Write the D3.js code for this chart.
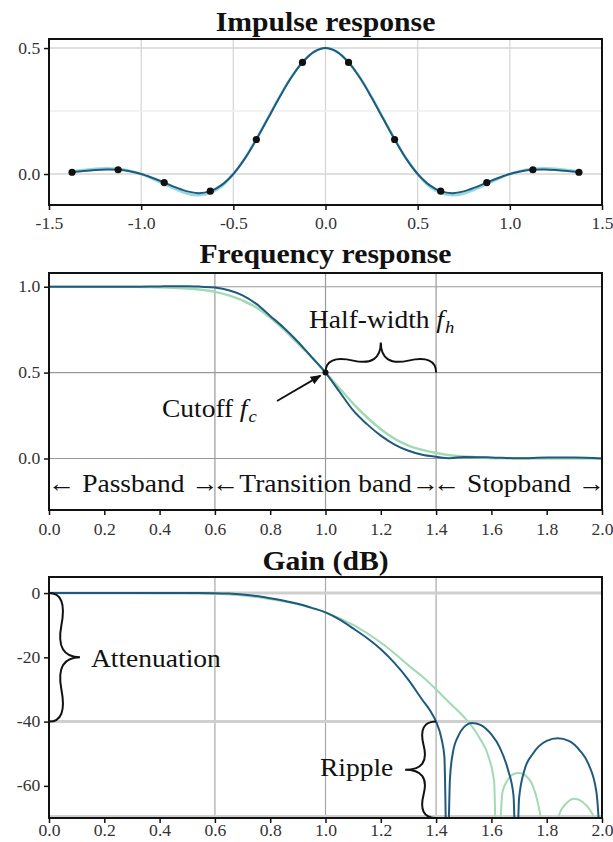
<!DOCTYPE html>
<html>
<head>
<meta charset="utf-8">
<script src="https://cdn.jsdelivr.net/npm/d3@7"></script>
<style>
  body { margin: 0; background: #fff; }
  text { font-family: "Liberation Serif", "Times New Roman", Times, serif; }
</style>
</head>
<body>
<svg id="chart" width="613" height="842"></svg>
<script>
// ---------- data ----------
// Impulse response, continuous curves
const impulseT = [-1.375,-1.3125,-1.25,-1.1875,-1.125,-1.0625,-1.0,-0.9375,-0.875,-0.8125,-0.75,-0.6875,-0.625,-0.5625,-0.5,-0.4375,-0.375,-0.3125,-0.25,-0.1875,-0.125,-0.0625,0,
  0.0625,0.125,0.1875,0.25,0.3125,0.375,0.4375,0.5,0.5625,0.625,0.6875,0.75,0.8125,0.875,0.9375,1.0,1.0625,1.125,1.1875,1.25,1.3125,1.375];
const impulseDark = [0.007,0.012,0.016,0.018,0.017,0.011,0,-0.016,-0.034,-0.053,-0.069,-0.076,-0.068,-0.043,0,0.061,0.137,0.220,0.304,0.381,0.443,0.485,0.5,
  0.485,0.443,0.381,0.304,0.220,0.137,0.061,0,-0.043,-0.068,-0.076,-0.069,-0.053,-0.034,-0.016,0,0.011,0.017,0.018,0.016,0.012,0.007];
const impulseLight = [0.010,0.016,0.021,0.023,0.021,0.013,0,-0.019,-0.040,-0.061,-0.078,-0.084,-0.076,-0.049,0,0.063,0.140,0.223,0.306,0.382,0.444,0.485,0.5,
  0.485,0.444,0.382,0.306,0.223,0.140,0.063,0,-0.049,-0.076,-0.084,-0.078,-0.061,-0.040,-0.019,0,0.013,0.021,0.023,0.021,0.016,0.010];
// Filter taps (sampled impulse response)
const tapT = [-1.375,-1.125,-0.875,-0.625,-0.375,-0.125,0.125,0.375,0.625,0.875,1.125,1.375];
const tapH = [0.007,0.017,-0.034,-0.068,0.137,0.443,0.443,0.137,-0.068,-0.034,0.017,0.007];

// Frequency response (linear magnitude)
const freqX =     [0,0.1,0.2,0.3,0.4,0.45,0.5,0.55,0.6,0.65,0.7,0.75,0.8,0.85,0.9,0.95,1.0,1.05,1.1,1.15,1.2,1.25,1.3,1.35,1.4,1.45,1.5,1.6,1.7,1.8,1.9,2.0];
const freqDark =  [1,1,1,1,1.002,1.003,1.003,1.0,0.995,0.98,0.95,0.90,0.83,0.76,0.68,0.59,0.5,0.39,0.28,0.20,0.133,0.081,0.045,0.022,0.01,0.002,0.009,0.006,0.001,0.005,0.005,0];
const freqLight = [1,1,1,1,0.997,0.994,0.99,0.982,0.97,0.95,0.92,0.88,0.82,0.75,0.67,0.59,0.5,0.41,0.32,0.24,0.17,0.115,0.075,0.050,0.032,0.019,0.012,0.002,0.0016,0.0002,0.0006,0];

// Gain in dB
const gainDarkX = [0,0.2,0.4,0.5,0.6,0.65,0.7,0.75,0.8,0.85,0.9,0.95,1.0,1.05,1.1,1.15,1.2,1.25,1.3,1.35,1.38,1.4,1.42,1.43,1.44,1.45,1.46,1.48,1.5,1.53,1.56,1.6,1.63,1.66,1.68,1.69,1.70,1.72,1.75,1.8,1.84,1.88,1.92,1.95,1.98,2.0];
const gainDark =  [0,0,0,0,-0.04,-0.17,-0.45,-0.9,-1.6,-2.4,-3.35,-4.6,-6.0,-8.2,-11.0,-14.0,-17.5,-21.8,-27,-33.2,-36.8,-40,-45.5,-51,-90,-58,-50,-44.5,-41.8,-40.4,-41,-44,-48,-55,-63,-90,-64,-55,-50,-46,-45.2,-46,-49,-53,-62,-90];
const gainLightX = [0,0.2,0.4,0.5,0.6,0.7,0.8,0.9,1.0,1.1,1.2,1.25,1.3,1.35,1.4,1.45,1.5,1.53,1.56,1.59,1.61,1.62,1.64,1.66,1.68,1.70,1.72,1.75,1.77,1.79,1.81,1.83,1.845,1.87,1.9,1.93,1.96,1.98,2.0];
const gainLight =  [0,0,-0.02,-0.09,-0.26,-0.72,-1.9,-3.5,-6.0,-9.9,-15.4,-18.8,-22.5,-26,-30,-34.3,-38.5,-41.5,-45.5,-51,-59,-90,-62,-58,-56.3,-56,-56.6,-60,-66,-76,-90,-75,-69,-65.5,-64,-65,-68,-72,-90];

// Tick values
const impXTicks = [-1.5,-1.0,-0.5,0.0,0.5,1.0,1.5];
const impYTicks = [0.0,0.5];
const freqXTicks = [0,0.2,0.4,0.6,0.8,1.0,1.2,1.4,1.6,1.8,2.0];
const freqYTicks = [0.0,0.5,1.0];
const gainYTicks = [0,-20,-40,-60];
const bandEdges = [0.6,1.0,1.4];

// ---------- drawing ----------
const svg = d3.select("#chart");
const DARK = "#1f5a7e", LIGHT = "#a1dab4", LIGHT_IMP = "#94d8e0";
const SERIF = '"Liberation Serif", "Times New Roman", Times, serif';
const SX = 1.1; // horizontal stretch applied to all lettering
const minusFmt = d3.formatLocale({decimal: ".", thousands: ",", grouping: [3], currency: ["", ""], minus: "-"});
const f1 = minusFmt.format(".1f"), f0 = minusFmt.format("d");

const left = 49, right = 602;

function frame(g, top, bottom) {
  g.append("rect").attr("x", left).attr("y", top).attr("width", right - left).attr("height", bottom - top)
    .attr("fill", "none").attr("stroke", "#111").attr("stroke-width", 2);
}

function axes(g, x, y, xt, yt, xf, yf, bottom, pad) {
  const ax = g.append("g").attr("transform", `translate(0,${bottom})`)
    .call(d3.axisBottom(x).tickValues(xt).tickFormat(xf).tickSize(5).tickPadding(pad));
  const ay = g.append("g").attr("transform", `translate(${left},0)`)
    .call(d3.axisLeft(y).tickValues(yt).tickFormat(yf).tickSize(5).tickPadding(3));
  [ax, ay].forEach(a => {
    a.attr("font-family", SERIF);
    a.select(".domain").remove();
    a.selectAll(".tick line").attr("stroke", "#111").attr("stroke-width", 1.5);
    a.selectAll(".tick text").style("font-family", SERIF).attr("font-size", 16)
      .attr("fill", "#333").attr("transform", `scale(${SX},1)`);
  });
}

function label(g, x, y, str, opts = {}) {
  const t = g.append("text").attr("transform", `translate(${x},${y}) scale(${SX},1)`)
    .style("font-family", SERIF)
    .attr("text-anchor", opts.anchor || "start")
    .attr("font-size", opts.size || 25)
    .attr("font-weight", opts.bold ? "bold" : "normal")
    .attr("fill", "#111");
  if (str !== null) t.text(str);
  return t;
}

// Curly brace between two points, bulging to the left of the direction of travel
function bracePath(x1, y1, x2, y2, w, q) {
  let dx = x1 - x2, dy = y1 - y2;
  const len = Math.hypot(dx, dy);
  dx /= len; dy /= len;
  const qx1 = x1 + q * w * dy, qy1 = y1 - q * w * dx;
  const qx2 = (x1 - 0.25 * len * dx) + (1 - q) * w * dy, qy2 = (y1 - 0.25 * len * dy) - (1 - q) * w * dx;
  const tx1 = (x1 - 0.5 * len * dx) + w * dy, ty1 = (y1 - 0.5 * len * dy) - w * dx;
  const qx3 = x2 + q * w * dy, qy3 = y2 - q * w * dx;
  const qx4 = (x1 - 0.75 * len * dx) + (1 - q) * w * dy, qy4 = (y1 - 0.75 * len * dy) - (1 - q) * w * dx;
  return `M${x1},${y1}Q${qx1},${qy1} ${qx2},${qy2}T${tx1},${ty1}M${x2},${y2}Q${qx3},${qy3} ${qx4},${qy4}T${tx1},${ty1}`;
}

function gridV(g, x, vals, top, bottom, color, w) {
  g.selectAll(null).data(vals).enter().append("line")
    .attr("x1", d => x(d)).attr("x2", d => x(d)).attr("y1", top).attr("y2", bottom)
    .attr("stroke", color).attr("stroke-width", w);
}
function gridH(g, y, vals, color, w) {
  g.selectAll(null).data(vals).enter().append("line")
    .attr("x1", left).attr("x2", right).attr("y1", d => y(d)).attr("y2", d => y(d))
    .attr("stroke", color).attr("stroke-width", w);
}

function subscripted(t, main, sub) {
  t.append("tspan").attr("font-style", "italic").attr("dx", 6).text(main);
  t.append("tspan").attr("font-style", "italic").attr("font-size", 17).attr("dx", 1).attr("dy", 5).text(sub);
}

// ===== Panel 1: impulse response =====
{
  const top = 39, bottom = 205;
  const g = svg.append("g");
  const x = d3.scaleLinear().domain([-1.5, 1.5]).range([left, right]);
  const y = d3.scaleLinear().domain([-0.123, 0.536]).range([bottom, top]);
  gridV(g, x, [-1.0, -0.5, 0, 0.5, 1.0], top, bottom, "#d4d4d4", 1.2);
  gridH(g, y, [0.0, 0.5], "#d4d4d4", 1.5);
  gridH(g, y, [0.25], "#eeeeee", 1.5);
  const line = d3.line().x(d => x(d[0])).y(d => y(d[1])).curve(d3.curveCatmullRom);
  g.append("path").datum(d3.zip(impulseT, impulseLight)).attr("d", line)
    .attr("fill", "none").attr("stroke", LIGHT_IMP).attr("stroke-width", 2.5);
  g.append("path").datum(d3.zip(impulseT, impulseDark)).attr("d", line)
    .attr("fill", "none").attr("stroke", DARK).attr("stroke-width", 2);
  g.selectAll(null).data(d3.zip(tapT, tapH)).enter().append("circle")
    .attr("cx", d => x(d[0])).attr("cy", d => y(d[1])).attr("r", 3.6).attr("fill", "#111");
  frame(g, top, bottom);
  axes(g, x, y, impXTicks, impYTicks, f1, f1, bottom, 8);
  label(g, (left + right) / 2, 31, "Impulse response", {anchor: "middle", size: 27, bold: true});
}

// ===== Panel 2: frequency response =====
{
  const top = 273, bottom = 510;
  const g = svg.append("g");
  const x = d3.scaleLinear().domain([0, 2]).range([left, right]);
  const y = d3.scaleLinear().domain([-0.3, 1.08]).range([bottom, top]);
  gridV(g, x, bandEdges, top, bottom, "#9a9a9a", 1.2);
  gridH(g, y, freqYTicks, "#9a9a9a", 1.2);
  const line = d3.line().x(d => x(d[0])).y(d => y(d[1])).curve(d3.curveMonotoneX);
  g.append("path").datum(d3.zip(freqX, freqLight)).attr("d", line)
    .attr("fill", "none").attr("stroke", LIGHT).attr("stroke-width", 2.5);
  g.append("path").datum(d3.zip(freqX, freqDark)).attr("d", line)
    .attr("fill", "none").attr("stroke", DARK).attr("stroke-width", 2);
  g.append("circle").attr("cx", x(1.0)).attr("cy", y(0.5)).attr("r", 3).attr("fill", "#111");

  // half-width brace from f_c to f_c + f_h
  g.append("path").attr("d", bracePath(x(1.4), y(0.5), x(1.0), y(0.5), 30, 0.6))
    .attr("fill", "none").attr("stroke", "#111").attr("stroke-width", 2);
  const hw = label(g, 309, 328, null);
  hw.append("tspan").text("Half-width");
  subscripted(hw, "f", "h");

  // cutoff arrow
  g.append("defs").append("marker").attr("id", "ah").attr("viewBox", "0 0 10 10")
    .attr("refX", 9).attr("refY", 5).attr("markerWidth", 6).attr("markerHeight", 6).attr("orient", "auto")
    .append("path").attr("d", "M0,1L10,5L0,9Z").attr("fill", "#111");
  g.append("line").attr("x1", 277).attr("y1", 401).attr("x2", x(1.0) - 5).attr("y2", y(0.5) + 3)
    .attr("stroke", "#111").attr("stroke-width", 1.8).attr("marker-end", "url(#ah)");
  const co = label(g, 162, 417, null);
  co.append("tspan").text("Cutoff");
  subscripted(co, "f", "c");

  // band labels
  label(g, x(0.305), 492, "\u2190 Passband \u2192", {anchor: "middle"});
  label(g, x(1.0), 492, "\u2190Transition band\u2192", {anchor: "middle"});
  label(g, x(1.7), 492, "\u2190 Stopband \u2192", {anchor: "middle"});

  frame(g, top, bottom);
  axes(g, x, y, freqXTicks, freqYTicks, f1, f1, bottom, 9);
  label(g, (left + right) / 2, 263, "Frequency response", {anchor: "middle", size: 27, bold: true});
}

// ===== Panel 3: gain in dB =====
{
  const top = 577, bottom = 818;
  const g = svg.append("g");
  const x = d3.scaleLinear().domain([0, 2]).range([left, right]);
  const y = d3.scaleLinear().domain([-70, 5]).range([bottom, top]);
  g.append("clipPath").attr("id", "gclip").append("rect")
    .attr("x", left).attr("y", top).attr("width", right - left).attr("height", bottom - top);
  gridV(g, x, bandEdges, top, bottom, "#a8a8a8", 1.2);
  gridH(g, y, [0, -40, -69.5], "#cfcfcf", 3);
  const line = d3.line().x(d => x(d[0])).y(d => y(d[1])).curve(d3.curveMonotoneX);
  const curves = g.append("g").attr("clip-path", "url(#gclip)");
  curves.append("path").datum(d3.zip(gainLightX, gainLight)).attr("d", line)
    .attr("fill", "none").attr("stroke", LIGHT).attr("stroke-width", 2);
  curves.append("path").datum(d3.zip(gainDarkX, gainDark)).attr("d", line)
    .attr("fill", "none").attr("stroke", DARK).attr("stroke-width", 2);

  // attenuation brace
  g.append("path").attr("d", bracePath(x(0.0), y(-40), x(0.0), y(0), 31, 0.6))
    .attr("fill", "none").attr("stroke", "#111").attr("stroke-width", 2);
  label(g, 91, 667, "Attenuation");
  // ripple brace
  g.append("path").attr("d", bracePath(x(1.4), y(-40), x(1.4), y(-70), 31, 0.6))
    .attr("fill", "none").attr("stroke", "#111").attr("stroke-width", 2);
  label(g, 320, 776, "Ripple");

  frame(g, top, bottom);
  axes(g, x, y, freqXTicks, gainYTicks, f1, f0, bottom, 2);
  label(g, (left + right) / 2, 570, "Gain (dB)", {anchor: "middle", size: 27, bold: true});
}
</script>
</body>
</html>
